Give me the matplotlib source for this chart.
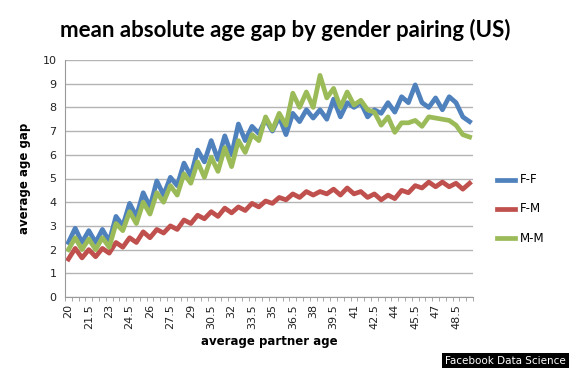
import numpy as np
import matplotlib
matplotlib.use("Agg")
import matplotlib.pyplot as plt

# average partner age, one category per half year
ages = [20 + 0.5 * i for i in range(60)]

ff = [2.3, 2.9, 2.3, 2.8, 2.3, 2.85, 2.35, 3.4, 3.0, 3.95,
      3.4, 4.4, 3.8, 4.9, 4.3, 5.05, 4.7, 5.65, 5.1, 6.2,
      5.7, 6.6, 5.8, 6.8, 6.0, 7.3, 6.6, 7.2, 6.9, 7.5,
      7.0, 7.6, 6.85, 7.75, 7.4, 7.9, 7.55, 7.9, 7.5, 8.35,
      7.6, 8.2, 8.0, 8.2, 7.6, 7.9, 7.75, 8.2, 7.8, 8.45,
      8.2, 8.95, 8.2, 8.0, 8.4, 7.9, 8.45, 8.2, 7.6, 7.4]

fm = [1.6, 2.05, 1.65, 2.0, 1.7, 2.05, 1.85, 2.3, 2.1, 2.5,
      2.3, 2.75, 2.5, 2.85, 2.7, 3.0, 2.85, 3.25, 3.1, 3.45,
      3.3, 3.6, 3.4, 3.75, 3.55, 3.8, 3.65, 3.95, 3.8, 4.05,
      3.95, 4.2, 4.1, 4.35, 4.2, 4.45, 4.3, 4.45, 4.35, 4.55,
      4.3, 4.6, 4.35, 4.45, 4.2, 4.35, 4.1, 4.3, 4.15, 4.5,
      4.4, 4.7, 4.6, 4.85, 4.65, 4.85, 4.65, 4.8, 4.55, 4.8]

mm = [2.0, 2.5, 2.0, 2.45, 2.0, 2.5, 2.1, 3.1, 2.8, 3.6,
      3.1, 4.0, 3.5, 4.4, 4.0, 4.7, 4.3, 5.2, 4.8, 5.7,
      5.05, 5.9, 5.3, 6.3, 5.5, 6.6, 6.1, 6.85, 6.6, 7.6,
      7.05, 7.75, 7.25, 8.6, 8.0, 8.65, 8.0, 9.35, 8.4, 8.8,
      8.0, 8.65, 8.1, 8.3, 7.9, 7.8, 7.25, 7.6, 6.95, 7.35,
      7.35, 7.45, 7.2, 7.6, 7.55, 7.5, 7.45, 7.25, 6.85, 6.75]

series = [("F-F", ff, "#4F81BD"), ("F-M", fm, "#C0504D"), ("M-M", mm, "#9BBB59")]

fig = plt.figure(figsize=(5.7, 3.68), dpi=100, facecolor='w')
ax = fig.add_axes([65/570, 1-297/368, (473-65)/570, (297-60)/368])

x = np.arange(len(ages))
for name, vals, col in series:
    ax.plot(x, vals, color=col, linewidth=3.4, label=name, solid_joinstyle='round')

ax.set_xlim(-0.5, len(ages) - 0.5)
ax.set_ylim(0, 10)
ax.set_yticks(range(0, 11))
ax.yaxis.grid(True, color='#b4b4b4', linewidth=1.0)
ax.set_axisbelow(True)
ax.tick_params(axis='y', length=0, labelsize=8, pad=6, labelcolor='#222222')

ax.set_xticks(x[::3])
ax.set_xticklabels(['%g' % a for a in ages[::3]], rotation=90, fontsize=8, color='#222222')
ax.set_xticks(np.arange(-0.5, len(ages)), minor=True)
ax.tick_params(axis='x', which='major', length=0, pad=5)
ax.tick_params(axis='x', which='minor', length=3, color='#999999')

for s in ['top', 'right']:
    ax.spines[s].set_visible(False)
ax.spines['left'].set_color('#999999')
ax.spines['bottom'].set_color('#999999')

fig.text(285/570, 1-30/368, 'mean absolute age gap by gender pairing (US)',
         ha='center', va='center', fontsize=16, fontweight='bold', family='Lato')
fig.text(25/570, 1-178/368, 'average age gap', rotation=90, ha='center', va='center',
         fontsize=8.5, fontweight='bold')
fig.text(269/570, 1-341/368, 'average partner age', ha='center', va='center',
         fontsize=8.5, fontweight='bold')

# legend drawn by hand on the right
for i, (name, vals, col) in enumerate(series):
    yy = 1 - (180 + 29*i)/368
    fig.add_artist(plt.Line2D([497/570, 515/570], [yy, yy], color=col, linewidth=3.4,
                              transform=fig.transFigure))
    fig.text(520/570, yy, name, ha='left', va='center', fontsize=8.5)

fig.text(566/570, 1-361/368, 'Facebook Data Science', ha='right', va='center',
         fontsize=7.5, color='white',
         bbox=dict(facecolor='black', edgecolor='none', pad=2))

fig.savefig('out.png', dpi=100, facecolor='w')
